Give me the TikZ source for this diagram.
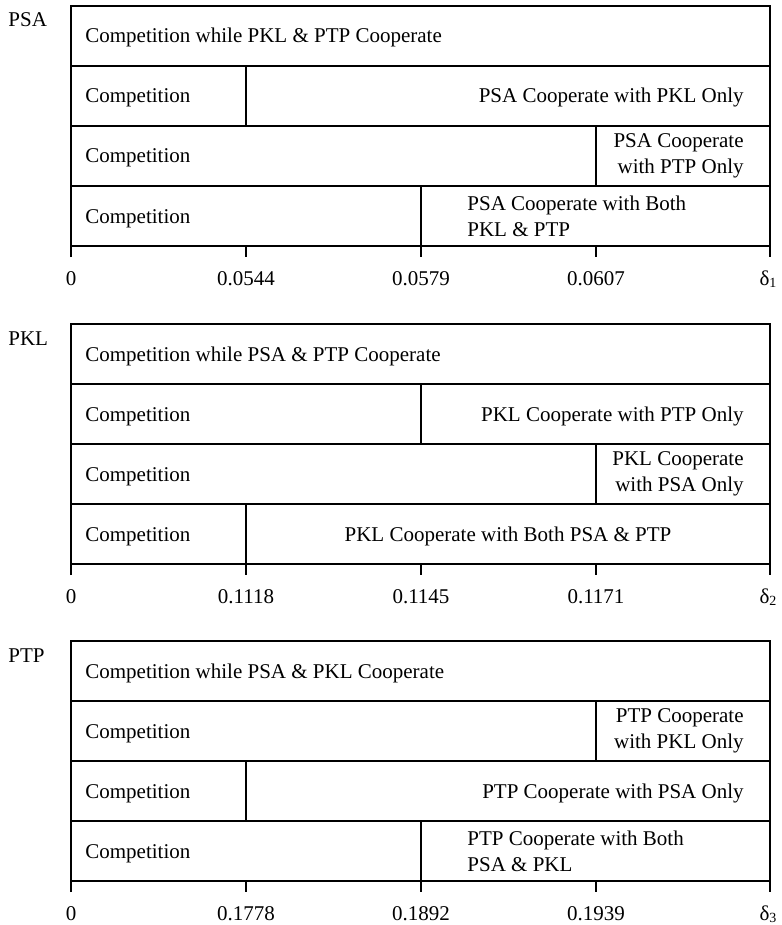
\documentclass[tikz,border=0pt]{standalone}
\usepackage{fontspec}
\setmainfont{Liberation Serif}
\tikzset{
  box/.style={line width=1pt},
  txt/.style={inner sep=0pt, font=\fontsize{10.5}{13}\selectfont, align=left},
  rtxt/.style={txt, align=right},
  who/.style={txt, anchor=base west},
  val/.style={txt, anchor=base}
}
\begin{document}
\begin{tikzpicture}[x=0.5pt, y=-0.5pt]
  \useasboundingbox (0,0) rectangle (781,925);
  \foreach \yy/\me/\oa/\ob/\sa/\sb/\sc/\va/\vb/\vc/\dn in
    {6/PSA/PKL/PTP/246/596/421/0.0544/0.0579/0.0607/1,
     324/PKL/PSA/PTP/421/596/246/0.1118/0.1145/0.1171/2,
     641/PTP/PSA/PKL/596/246/421/0.1778/0.1892/0.1939/3}
  {
    \draw[box] (71,\yy+251) -- (71,\yy) -- (770,\yy) -- (770,\yy+251);
    \foreach \y in {60,120,180,240}
      \draw[box] (71,\yy+\y) -- (770,\yy+\y);
    \draw[box] (\sa,\yy+60) -- (\sa,\yy+120);
    \draw[box] (\sb,\yy+120) -- (\sb,\yy+180);
    \draw[box] (\sc,\yy+180) -- (\sc,\yy+240);
    \foreach \x in {246,421,596}
      \draw[box] (\x,\yy+240) -- (\x,\yy+251);
    \node[who] (\me-name) at (8,\yy+21) {\me};
    \node[txt, anchor=base west] (\me-top) at (85,\yy+37) {Competition while \oa{} \& \ob{} Cooperate};
    \foreach \i/\y in {1/97,2/157,3/217}
      \node[txt, anchor=base west] (\me-comp\i) at (85,\yy+\y) {Competition};
    \node[val] (\me-v0) at (71,\yy+279) {0};
    \node[val] (\me-va) at (246,\yy+279) {\va};
    \node[val] (\me-vb) at (421,\yy+279) {\vb};
    \node[val] (\me-vc) at (596,\yy+279) {\vc};
    \node[val] (\me-d) at (768,\yy+279) {δ\raisebox{-0.1em}{\fontsize{7}{8}\selectfont\dn}};
  }
  % PSA
  \node[txt, anchor=base east] (psa-kl) at (744,103) {PSA Cooperate with PKL Only};
  \node[rtxt, anchor=east] (psa-tp) at (744,156) {PSA Cooperate\\with PTP Only};
  \node[txt, anchor=west] (psa-both) at (467,216) {PSA Cooperate with Both\\PKL \& PTP};
  % PKL
  \node[txt, anchor=base east] (pkl-tp) at (744,421) {PKL Cooperate with PTP Only};
  \node[rtxt, anchor=east] (pkl-sa) at (744,474) {PKL Cooperate\\with PSA Only};
  \node[txt, anchor=base] (pkl-both) at (508,541) {PKL Cooperate with Both PSA \& PTP};
  % PTP
  \node[rtxt, anchor=east] (ptp-kl) at (744,731) {PTP Cooperate\\with PKL Only};
  \node[txt, anchor=base east] (ptp-sa) at (744,798) {PTP Cooperate with PSA Only};
  \node[txt, anchor=west] (ptp-both) at (467,851) {PTP Cooperate with Both\\PSA \& PKL};
\end{tikzpicture}
\end{document}
